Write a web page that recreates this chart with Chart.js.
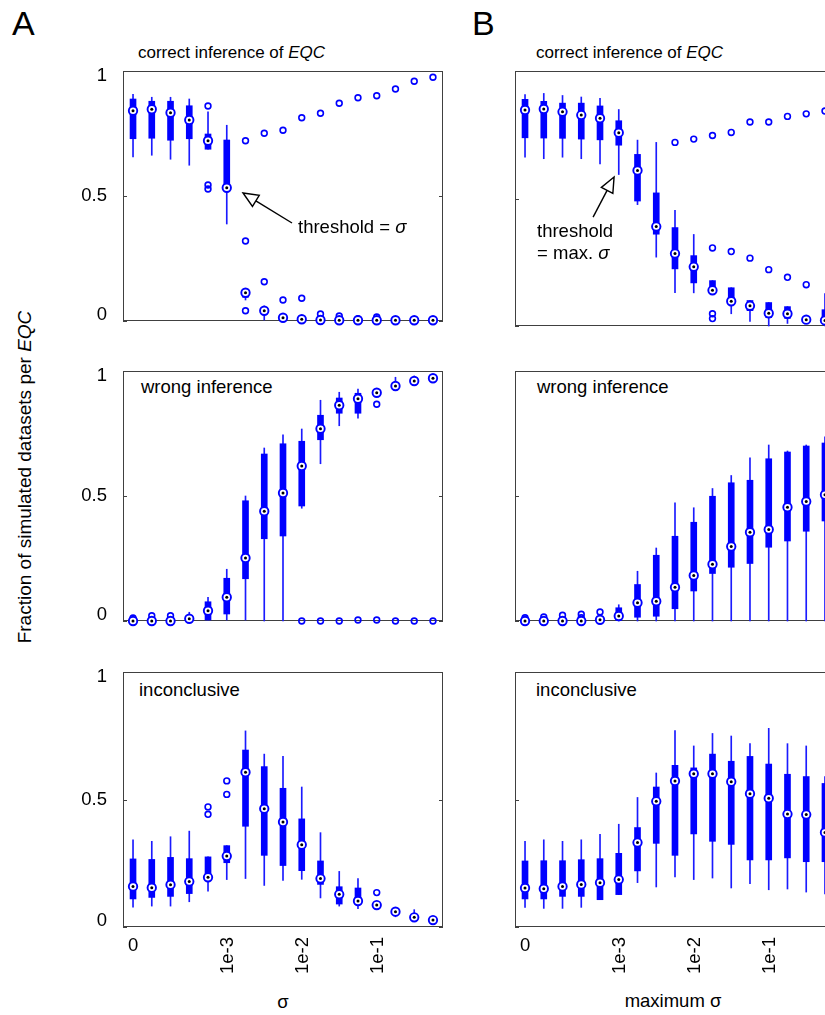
<!DOCTYPE html>
<html><head><meta charset="utf-8">
<script src="https://cdn.jsdelivr.net/npm/chart.js@4.4.1/dist/chart.umd.min.js"></script>
<style>
html,body{margin:0;padding:0;width:825px;height:1015px;overflow:hidden;background:#fff;}
body{position:relative;font-family:'Liberation Sans',Arial,sans-serif;color:#000;}
canvas{position:absolute;}
.t{position:absolute;white-space:nowrap;line-height:1;font-size:18.5px;}
.big{font-size:34px;}
.ttl{font-size:17px;}
.rot{transform:translate(-50%,-50%) rotate(-90deg);font-size:19px;}
.ctr{transform:translate(-50%,-50%);font-size:18.5px;}
</style></head><body>

<div class="t big" style="left:12px;top:6px;">A</div>
<div class="t big" style="left:472px;top:6px;">B</div>
<div class="t ttl" style="left:138px;top:44px;">correct inference of <i>EQC</i></div>
<div class="t ttl" style="left:536px;top:44px;">correct inference of <i>EQC</i></div>
<div class="t" style="left:141px;top:378px;">wrong inference</div>
<div class="t" style="left:537px;top:378px;">wrong inference</div>
<div class="t" style="left:139px;top:681px;">inconclusive</div>
<div class="t" style="left:536px;top:681px;">inconclusive</div>
<div class="t rot" style="left:24px;top:477px;">Fraction of simulated datasets per <i>EQC</i></div>
<div class="t ctr" style="left:283px;top:1002px;">σ</div>
<div class="t ctr" style="left:673px;top:1001px;">maximum σ</div>

<canvas id="a1"></canvas><canvas id="a2"></canvas><canvas id="a3"></canvas>
<canvas id="b1"></canvas><canvas id="b2"></canvas><canvas id="b3"></canvas>

<script>
// ---------- categories and ticks ----------
const sigmaLabels = ['0','1e-4','1.8e-4','3.2e-4','5.6e-4','1e-3','1.8e-3','3.2e-3','5.6e-3','1e-2','1.8e-2','3.2e-2','5.6e-2','1e-1','0.18','0.32','0.56'];
const xTickIdx = [0,5,9,13];
const xTickText = ['0','1e-3','1e-2','1e-1'];
const yTickVals = [0,0.5,1];
const yTickText = ['0','0.5','1'];

// ---------- A: threshold = sigma ----------
// correct inference
const a1Med = [0.841,0.847,0.833,0.804,0.721,0.533,0.113,0.041,0.013,0.007,0.004,0.003,0.003,0.003,0.003,0.003,0.003];
const a1Q1  = [0.729,0.731,0.723,0.729,0.687,0.533,0.095,0.028,0.004,0.0,null,null,null,null,null,null,null];
const a1Q3  = [0.888,0.879,0.879,0.861,0.748,0.724,0.127,0.051,0.020,0.012,null,null,null,null,null,null,null];
const a1Lo  = [0.656,0.663,0.647,0.623,0.687,0.388,0.084,0.004,0.0,0.0,null,null,null,null,null,null,null];
const a1Hi  = [0.907,0.895,0.895,0.888,0.837,0.783,0.130,0.060,0.025,0.015,null,null,null,null,null,null,null];
const a1Out = [[4,0.86],[4,0.544],[4,0.528],[6,0.721],[6,0.32],[6,0.041],[7,0.751],[7,0.157],[8,0.763],[8,0.084],[9,0.813],[9,0.091],[10,0.831],[10,0.028],[11,0.871],[11,0.02],[12,0.893],[12,0.009],[13,0.901],[13,0.016],[14,0.928],[15,0.959],[16,0.975]];
// wrong inference
const a2Med = [0.0,0.0,0.0,0.009,0.041,0.095,0.252,0.439,0.512,0.62,0.769,0.863,0.889,0.913,0.94,0.96,0.971];
const a2Q1  = [null,null,null,null,0.004,0.028,0.169,0.329,0.34,0.46,0.725,0.831,0.831,null,null,null,null];
const a2Q3  = [null,null,null,null,0.077,0.171,0.481,0.668,0.709,0.719,0.823,0.892,0.911,null,null,null,null];
const a2Lo  = [null,null,null,0.0,0.004,0.004,0.004,0.0,0.0,0.451,0.629,0.781,0.811,0.90,0.93,0.95,null];
const a2Hi  = [null,null,null,0.035,0.095,0.207,0.50,0.692,0.745,0.768,0.883,0.915,0.928,0.925,0.975,0.98,null];
const a2Out = [[0,0.012],[0,-0.003],[1,0.021],[2,0.021],[9,0.0],[10,0.0],[11,0.0],[12,0.004],[13,0.004],[13,0.867],[14,0.0],[15,0.0],[16,0.0]];
// inconclusive
const a3Med = [0.159,0.154,0.166,0.178,0.195,0.278,0.607,0.464,0.412,0.323,0.19,0.128,0.102,0.086,0.06,0.038,0.027];
const a3Q1  = [0.11,0.116,0.12,0.131,0.195,0.252,0.395,0.281,0.241,0.221,0.167,0.09,0.09,null,null,null,null];
const a3Q3  = [0.267,0.265,0.273,0.268,0.275,0.319,0.694,0.629,0.544,0.424,0.259,0.158,0.153,null,null,null,null];
const a3Lo  = [0.078,0.082,0.082,0.099,0.141,0.186,0.19,0.163,0.183,0.187,0.114,0.082,0.072,null,0.04,0.026,null];
const a3Hi  = [0.342,0.336,0.354,0.376,0.275,0.319,0.769,0.678,0.669,0.549,0.37,0.218,0.19,null,0.072,0.068,null];
const a3Out = [[4,0.442],[4,0.471],[5,0.52],[5,0.573],[13,0.135]];

// ---------- B: threshold = max. sigma ----------
const b1Med = [0.847,0.851,0.84,0.827,0.815,0.758,0.61,0.39,0.284,0.232,0.14,0.097,0.079,0.05,0.048,0.025,0.022];
const b1Q1  = [0.738,0.737,0.736,0.733,0.73,0.709,0.49,0.36,0.224,0.169,0.127,0.097,0.06,0.033,0.03,null,0.012];
const b1Q3  = [0.889,0.881,0.874,0.874,0.863,0.805,0.673,0.522,0.386,0.276,0.178,0.15,0.1,0.092,0.076,null,0.064];
const b1Lo  = [0.662,0.656,0.662,0.656,0.636,0.594,0.476,0.27,0.131,0.13,0.127,0.048,0.018,0.0,0.01,null,0.0];
const b1Hi  = [0.908,0.912,0.904,0.898,0.893,0.849,0.729,0.72,0.454,0.359,0.178,0.15,0.1,0.092,0.076,null,0.127];
const b1Out = [[8,0.72],[9,0.733],[10,0.747],[10,0.306],[10,0.048],[10,0.029],[11,0.759],[11,0.292],[12,0.8],[12,0.266],[13,0.8],[13,0.221],[14,0.822],[14,0.191],[15,0.832],[15,0.162],[16,0.843]];
const b2Med = [0.0,0.0,0.0,0.0,0.005,0.02,0.073,0.079,0.135,0.182,0.227,0.298,0.355,0.366,0.455,0.478,0.505];
const b2Q1  = [null,null,null,null,null,0.003,0.015,0.019,0.049,0.12,0.19,0.215,0.23,0.295,0.32,0.359,0.4];
const b2Q3  = [null,null,null,null,null,0.053,0.146,0.263,0.339,0.395,0.499,0.553,0.563,0.649,0.676,0.7,0.712];
const b2Lo  = [null,null,null,null,null,0.0,0.0,0.0,0.0,0.0,0.0,0.0,0.0,0.0,0.0,0.0,0.0];
const b2Hi  = [null,null,null,null,null,0.065,0.199,0.292,0.473,0.453,0.53,0.582,0.653,0.704,0.68,0.704,0.737];
const b2Out = [[0,0.013],[0,0.004],[1,0.016],[2,0.023],[3,0.027],[3,0.013],[4,0.036]];
const b3Med = [0.153,0.15,0.159,0.167,0.174,0.186,0.331,0.493,0.573,0.601,0.601,0.57,0.523,0.505,0.443,0.441,0.371];
const b3Q1  = [0.11,0.11,0.12,0.12,0.107,0.127,0.22,0.328,0.281,0.365,0.336,0.324,0.263,0.263,0.271,0.256,0.256];
const b3Q3  = [0.259,0.26,0.26,0.264,0.268,0.289,0.39,0.549,0.634,0.624,0.678,0.65,0.669,0.639,0.599,0.59,0.563];
const b3Lo  = [0.077,0.073,0.073,0.077,0.107,0.127,0.174,0.157,0.196,0.186,0.192,0.153,0.17,0.146,0.149,0.137,0.13];
const b3Hi  = [0.336,0.342,0.336,0.342,0.363,0.403,0.508,0.604,0.77,0.71,0.759,0.749,0.719,0.779,0.719,0.71,0.59];
const b3Out = [];

// ---------- drawing ----------
const FONT = "'Liberation Sans', Arial, sans-serif";
const BLUE = '#0000ff';
const PADL = 70, PADT = 30, PADR = 10, PADB = 60;

function pairs(lo, hi){
  const r = [];
  lo.forEach((v,i)=>{ if (v!=null && hi[i]!=null) r.push({x:i, y:[v, hi[i]]}); });
  return r;
}

function drawTextSigma(ctx, parts, x, y){
  let cx = x;
  parts.forEach(p=>{
    ctx.font = (p.it ? 'italic ' : '') + '18.5px ' + FONT;
    ctx.fillText(p.s, cx, y);
    cx += ctx.measureText(p.s).width;
  });
}

function arrow(ctx, x0, y0, x1, y1){
  const ang = Math.atan2(y1-y0, x1-x0);
  const hl = 15, hw = 6.5;
  const bx = x1 - hl*Math.cos(ang), by = y1 - hl*Math.sin(ang);
  ctx.save();
  ctx.strokeStyle = '#000'; ctx.lineWidth = 1.4;
  ctx.beginPath(); ctx.moveTo(x0,y0); ctx.lineTo(bx,by); ctx.stroke();
  ctx.beginPath();
  ctx.moveTo(x1,y1);
  ctx.lineTo(bx + hw*Math.sin(ang), by - hw*Math.cos(ang));
  ctx.lineTo(bx - hw*Math.sin(ang), by + hw*Math.cos(ang));
  ctx.closePath();
  ctx.fillStyle = '#fff'; ctx.fill(); ctx.stroke();
  ctx.restore();
}

function makePanel(id, L, T, W, H, d, opts){
  const cv = document.getElementById(id);
  cv.width = W + PADL + PADR; cv.height = H + PADT + PADB;
  cv.style.left = (L - PADL) + 'px'; cv.style.top = (T - PADT) + 'px';
  const medPts = d.med.map((v,i)=>({x:i, y:v}));
  const outPts = d.out.map(p=>({x:p[0], y:p[1]}));
  const deco = {
    id: 'deco_' + id,
    beforeDatasetsDraw(chart){
      const ctx = chart.ctx, a = chart.chartArea, ys = chart.scales.y;
      ctx.save();
      ctx.strokeStyle = '#404040'; ctx.lineWidth = 1;
      ctx.strokeRect(a.left + 0.5, a.top + 0.5, a.right - a.left - 1, a.bottom - a.top - 1);
      yTickVals.forEach(v=>{
        const py = Math.round(ys.getPixelForValue(v)) + 0.5;
        ctx.beginPath();
        ctx.moveTo(a.left, py); ctx.lineTo(a.left + 4, py);
        ctx.moveTo(a.right - 4, py); ctx.lineTo(a.right, py);
        ctx.stroke();
      });
      ctx.restore();
    },
    afterDatasetsDraw(chart){
      const ctx = chart.ctx, a = chart.chartArea, xs = chart.scales.x, ys = chart.scales.y;
      ctx.save();
      ctx.fillStyle = '#000';
      ctx.font = '18.5px ' + FONT;
      if (opts.yLabels){
        ctx.textAlign = 'right'; ctx.textBaseline = 'middle';
        yTickVals.forEach((v,k)=>{
          let py = ys.getPixelForValue(v);
          if (v === 1) py += 5; if (v === 0) py -= 6;
          ctx.fillText(yTickText[k], a.left - 16, py);
        });
      }
      if (opts.xLabels){
        xTickIdx.forEach((ix,k)=>{
          const px = xs.getPixelForValue(ix);
          if (xTickText[k] === '0'){
            ctx.textAlign = 'center'; ctx.textBaseline = 'middle';
            ctx.fillText(xTickText[k], px, a.bottom + 19);
          } else {
            ctx.save();
            ctx.translate(px + 1, a.bottom + 10);
            ctx.rotate(-Math.PI/2);
            ctx.textAlign = 'right'; ctx.textBaseline = 'middle';
            ctx.fillText(xTickText[k], 0, 0);
            ctx.restore();
          }
        });
      }
      if (opts.note){
        const n = opts.note;
        const P = (x,y)=>[xs.getPixelForValue(x), ys.getPixelForValue(y)];
        const [x0,y0] = P(n.from[0], n.from[1]);
        const [x1,y1] = P(n.tip[0], n.tip[1]);
        arrow(ctx, x0, y0, x1, y1);
        ctx.fillStyle = '#000'; ctx.textAlign = 'left'; ctx.textBaseline = 'alphabetic';
        n.lines.forEach((ln, k)=>{
          const [tx,ty] = P(n.text[0], n.text[1]);
          drawTextSigma(ctx, ln, tx, ty + k*22);
        });
      }
      ctx.restore();
    }
  };
  return new Chart(cv, {
    type: 'bar',
    data: {
      labels: sigmaLabels,
      datasets: [
        {type:'bar', data: pairs(d.lo, d.hi), backgroundColor:'#1a1aff', borderWidth:0, barThickness:1, grouped:false, order:5, clip:false},
        {type:'bar', data: pairs(d.q1, d.q3), backgroundColor:BLUE, borderWidth:0, barThickness:6, grouped:false, order:4, clip:false},
        {type:'scatter', data: outPts, pointRadius:2.9, pointBorderWidth:1.6, pointBorderColor:BLUE, pointBackgroundColor:'rgba(0,0,0,0)', order:3, clip:false},
        {type:'scatter', data: medPts, pointRadius:4.2, pointBorderWidth:1.9, pointBorderColor:BLUE, pointBackgroundColor:'#fff', order:2, clip:false},
        {type:'scatter', data: medPts, pointRadius:1.5, pointBorderWidth:0, pointBackgroundColor:'#000', order:1, clip:false}
      ]
    },
    options: {
      responsive:false, animation:false, events:[],
      layout:{padding:{left:PADL, top:PADT, right:PADR, bottom:PADB}},
      plugins:{legend:{display:false}, tooltip:{enabled:false}},
      scales:{
        x:{type:'linear', min:-0.535, max:16.535, display:false, offset:false},
        y:{type:'linear', min:0, max:1, display:false}
      }
    },
    plugins:[deco]
  });
}

const noteA = {tip:[5.87,0.512], from:[8.48,0.392], text:[8.8,0.352],
  lines:[[{s:'threshold = '},{s:'σ', it:true}]]};
const noteB = {tip:[4.75,0.584], from:[3.63,0.427], text:[0.64,0.349],
  lines:[[{s:'threshold'}],[{s:'= max. '},{s:'σ', it:true}]]};

makePanel('a1', 123, 71, 320, 250, {med:a1Med,q1:a1Q1,q3:a1Q3,lo:a1Lo,hi:a1Hi,out:a1Out}, {yLabels:true, note:noteA});
makePanel('a2', 123, 371, 320, 250, {med:a2Med,q1:a2Q1,q3:a2Q3,lo:a2Lo,hi:a2Hi,out:a2Out}, {yLabels:true});
makePanel('a3', 123, 672, 320, 255, {med:a3Med,q1:a3Q1,q3:a3Q3,lo:a3Lo,hi:a3Hi,out:a3Out}, {yLabels:true, xLabels:true});
makePanel('b1', 515, 71, 320, 255, {med:b1Med,q1:b1Q1,q3:b1Q3,lo:b1Lo,hi:b1Hi,out:b1Out}, {note:noteB});
makePanel('b2', 515, 371, 320, 250, {med:b2Med,q1:b2Q1,q3:b2Q3,lo:b2Lo,hi:b2Hi,out:b2Out}, {});
makePanel('b3', 515, 672, 320, 255, {med:b3Med,q1:b3Q1,q3:b3Q3,lo:b3Lo,hi:b3Hi,out:b3Out}, {xLabels:true});
</script>
</body></html>
